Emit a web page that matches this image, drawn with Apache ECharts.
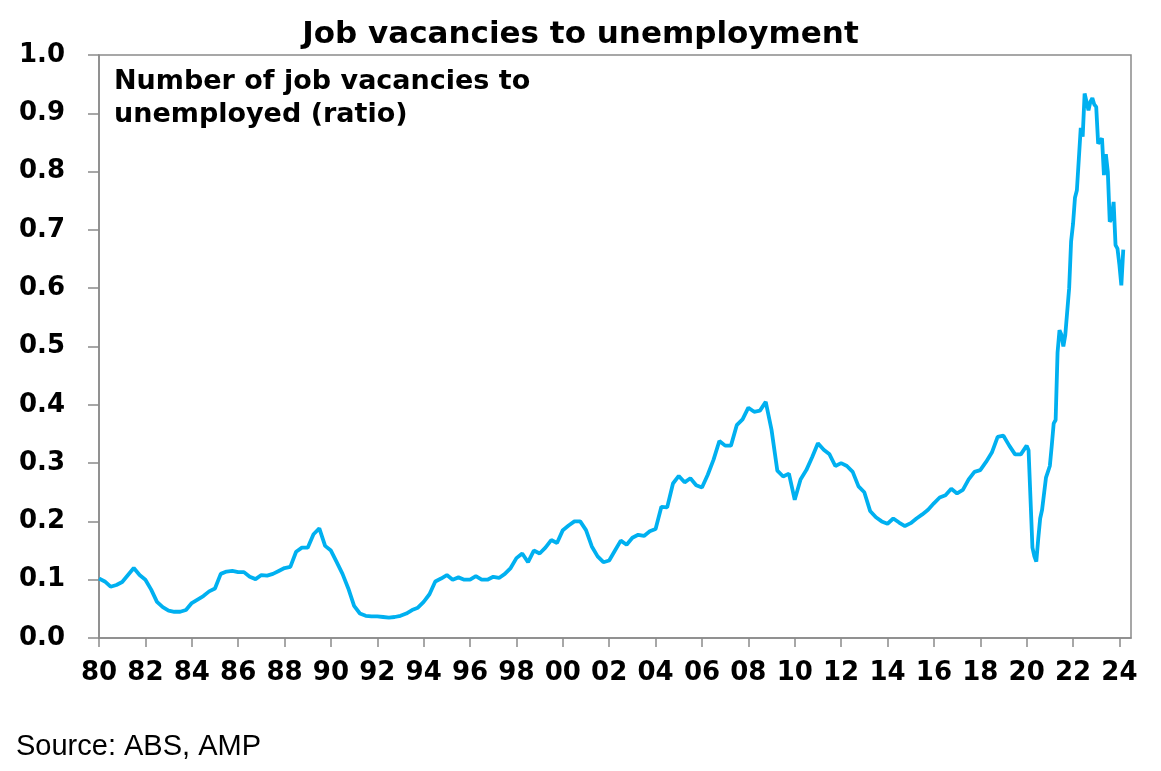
<!DOCTYPE html>
<html>
<head>
<meta charset="utf-8">
<script src="https://cdn.jsdelivr.net/npm/echarts@6/dist/echarts.min.js"></script>
<style>
html,body{margin:0;padding:0;background:#fff;}
#chart{width:1161px;height:771px;}
</style>
</head>
<body>
<div id="chart"></div>
<script>
// Quarterly ratio, 1980 Q1 .. 2019 Q4
var quarterlyStart = 1980;
var quarterlyRatio = [
  0.102, 0.097, 0.088, 0.091,
  0.096, 0.108, 0.120, 0.108,
  0.100, 0.083, 0.062, 0.053,
  0.047, 0.045, 0.045, 0.048,
  0.060, 0.066, 0.072, 0.080,
  0.085, 0.110, 0.114, 0.115,
  0.113, 0.113, 0.105, 0.101,
  0.108, 0.107, 0.110, 0.115,
  0.120, 0.122, 0.148, 0.155,
  0.155, 0.178, 0.188, 0.158,
  0.150, 0.130, 0.110, 0.085,
  0.055, 0.042, 0.038, 0.037,
  0.037, 0.036, 0.035, 0.036,
  0.038, 0.042, 0.048, 0.052,
  0.062, 0.075, 0.097, 0.102,
  0.108, 0.100, 0.104, 0.100,
  0.100, 0.106, 0.100, 0.100,
  0.105, 0.103, 0.110, 0.120,
  0.137, 0.145, 0.130, 0.150,
  0.145, 0.155, 0.168, 0.163,
  0.185, 0.193, 0.200, 0.200,
  0.185, 0.157, 0.140, 0.130,
  0.133, 0.150, 0.167, 0.160,
  0.172, 0.177, 0.175, 0.183,
  0.187, 0.225, 0.224, 0.265,
  0.278, 0.267, 0.274, 0.262,
  0.258, 0.280, 0.306, 0.338,
  0.330, 0.330, 0.365, 0.375,
  0.395, 0.388, 0.390, 0.405,
  0.357, 0.287, 0.277, 0.282,
  0.237, 0.272, 0.288, 0.310,
  0.334, 0.323, 0.315, 0.295,
  0.300, 0.295, 0.285, 0.260,
  0.250, 0.218, 0.207, 0.200,
  0.196, 0.205, 0.198, 0.192,
  0.197, 0.205, 0.212, 0.220,
  0.231, 0.241, 0.245, 0.256,
  0.248, 0.254, 0.272, 0.285,
  0.288, 0.302, 0.318, 0.345,
  0.347, 0.330, 0.315, 0.315
];
// Monthly ratio, Jan 2020 .. Mar 2024
var monthlyStart = 2020;
var monthlyRatio = [
  0.330, 0.322, 0.322, 0.155, 0.140, 0.131, 0.170, 0.205, 0.220, 0.220, 0.275, 0.285,
  0.295, 0.330, 0.368, 0.374, 0.490, 0.528, 0.520, 0.500, 0.520, 0.520, 0.600, 0.680,
  0.710, 0.755, 0.768, 0.770, 0.875, 0.860, 0.934, 0.937, 0.905, 0.920, 0.926, 0.915,
  0.911, 0.848, 0.852, 0.857, 0.794, 0.830, 0.800, 0.714, 0.720, 0.748, 0.674, 0.668,
  0.640, 0.605, 0.666
];
var xTickYears = [1980,1982,1984,1986,1988,1990,1992,1994,1996,1998,2000,2002,2004,2006,2008,2010,2012,2014,2016,2018,2020,2022,2024];
var yTicks = [0,0.1,0.2,0.3,0.4,0.5,0.6,0.7,0.8,0.9,1.0];
var titleText = 'Job vacancies to unemployment';
var subtitleText = 'Number of job vacancies to\nunemployed (ratio)';
var sourceText = 'Source: ABS, AMP';

var seriesData = [];
quarterlyRatio.forEach(function (v, i) { seriesData.push([quarterlyStart + i / 4, v]); });
monthlyRatio.forEach(function (v, i) { seriesData.push([monthlyStart + i / 12, v]); });

var boldFont = 'DejaVu Sans';
var chart = echarts.init(document.getElementById('chart'));
chart.setOption({
  backgroundColor: '#ffffff',
  animation: false,
  title: [
    {
      text: titleText, left: 'center', top: 14,
      textStyle: { fontFamily: boldFont, fontWeight: 'bold', fontSize: 31, color: '#000', lineHeight: 31 }
    },
    {
      text: subtitleText, left: 109, top: 60,
      textStyle: { fontFamily: boldFont, fontWeight: 'bold', fontSize: 27, color: '#000', lineHeight: 33 }
    },
    {
      text: sourceText, left: 11, top: 727,
      textStyle: { fontFamily: 'Liberation Sans', fontWeight: 'normal', fontSize: 29, color: '#000', lineHeight: 29 }
    }
  ],
  grid: { left: 99, right: 30, top: 55, bottom: 133, show: true, borderColor: '#8a8a8a', borderWidth: 1.5, containLabel: false },
  xAxis: {
    type: 'value', min: 1980, max: 2024.5, interval: 2,
    axisLine: { show: true, lineStyle: { color: '#8a8a8a', width: 1.5 } },
    axisTick: { show: true, length: 9, inside: false, lineStyle: { color: '#8a8a8a', width: 1.5 }, customValues: xTickYears },
    axisLabel: {
      customValues: xTickYears, margin: 22,
      fontFamily: boldFont, fontWeight: 'bold', fontSize: 26, color: '#000',
      formatter: function (v) { return String(Math.round(v)).slice(2); }
    },
    splitLine: { show: false }
  },
  yAxis: {
    type: 'value', min: 0, max: 1, interval: 0.1,
    axisLine: { show: true, lineStyle: { color: '#8a8a8a', width: 1.5 } },
    axisTick: { show: true, length: 11, inside: false, lineStyle: { color: '#8a8a8a', width: 1.5 }, customValues: yTicks },
    axisLabel: {
      customValues: yTicks, margin: 34,
      fontFamily: boldFont, fontWeight: 'bold', fontSize: 26, color: '#000',
      formatter: function (v) { return v.toFixed(1); }
    },
    splitLine: { show: false }
  },
  series: [{
    type: 'line', data: seriesData, showSymbol: false, symbol: 'none',
    lineStyle: { color: '#00B0F0', width: 3.8 }, smooth: false
  }]
});
</script>
</body>
</html>
